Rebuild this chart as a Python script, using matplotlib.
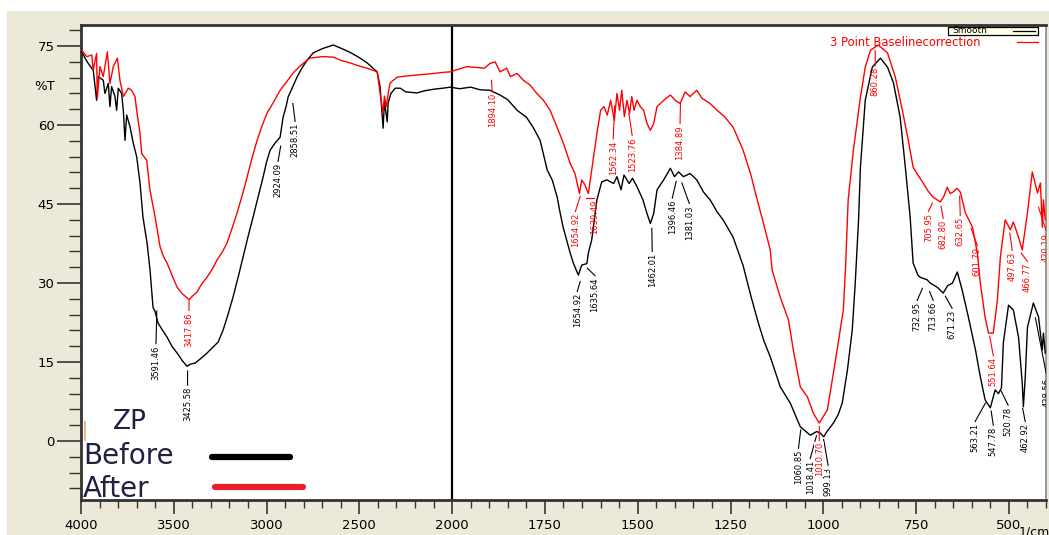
import numpy as np
import matplotlib
matplotlib.use("Agg")
import matplotlib.pyplot as plt
from matplotlib.lines import Line2D
from matplotlib.patches import Rectangle

# ZP FTIR spectra, %T vs wavenumber (1/cm)
before_wn = [4000, 3978, 3961, 3934, 3916, 3907, 3880, 3871, 3853, 3844, 3835, 3817, 3808, 3799,
             3781, 3772, 3763, 3754, 3736, 3718, 3700, 3682, 3666, 3644, 3628, 3612, 3600, 3585,
             3560, 3536, 3510, 3482, 3455, 3429, 3410, 3385, 3350, 3321, 3290, 3261, 3234, 3208,
             3181, 3154, 3127, 3100, 3073, 3046, 3019, 3000, 2981, 2954, 2927, 2911, 2895, 2884,
             2860, 2836, 2810, 2782, 2749, 2700, 2641, 2600, 2550, 2500, 2458, 2404, 2388, 2372,
             2365, 2350, 2345, 2330, 2307, 2280, 2250, 2189, 2150, 2100, 2050, 2011, 1980, 1950,
             1925, 1898, 1871, 1850, 1825, 1800, 1782, 1763, 1744, 1730, 1717, 1709, 1701, 1682,
             1673, 1660, 1651, 1637, 1633, 1624, 1610, 1597, 1583, 1565, 1556, 1545, 1537, 1523,
             1514, 1502, 1486, 1475, 1466, 1457, 1448, 1430, 1412, 1401, 1390, 1377, 1359, 1341,
             1323, 1305, 1286, 1270, 1243, 1216, 1195, 1175, 1160, 1143, 1116, 1089, 1062, 1035,
             1018, 1008, 999, 990, 973, 960, 949, 935, 922, 914, 905, 900, 887, 868, 846, 827,
             811, 793, 779, 766, 758, 745, 739, 720, 712, 693, 677, 665, 652, 639, 626, 609, 590,
             577, 564, 550, 537, 528, 520, 515, 501, 488, 474, 464, 461, 456, 450, 434, 420, 410,
             407, 402]
before_t = [74.2, 72.7, 71.7, 70.4, 64.7, 69.2, 68.5, 66.0, 67.9, 63.5, 67.3, 65.4, 62.8, 67.0,
            66.0, 62.8, 57.1, 61.9, 59.7, 56.5, 54.0, 49.0, 42.5, 37.6, 32.5, 25.4, 24.5, 22.4,
            21.0, 19.7, 18.0, 16.7, 15.3, 14.2, 14.6, 14.8, 15.8, 16.7, 17.8, 18.8, 21.1, 24.0,
            27.3, 31.0, 34.9, 38.8, 42.5, 46.3, 50.1, 53.0, 55.2, 56.6, 57.7, 61.5, 63.5, 65.3,
            67.2, 69.1, 70.8, 72.3, 73.7, 74.5, 75.2, 74.6, 73.8, 72.8, 71.8, 70.1, 67.2, 59.4,
            64.5, 60.6, 64.2, 66.0, 67.0, 67.0, 66.3, 66.1, 66.5, 66.8, 67.0, 67.2, 66.9, 67.2,
            66.7, 66.6, 65.7, 64.8, 62.8, 61.5, 59.6, 57.1, 51.5, 49.5, 46.3, 43.3, 40.6, 35.7,
            33.7, 31.5, 33.4, 33.7, 35.7, 38.2, 45.8, 49.2, 49.6, 48.9, 50.2, 47.7, 50.5, 48.9,
            49.9, 48.3, 45.8, 43.2, 41.3, 43.2, 47.7, 49.6, 51.8, 50.2, 51.1, 50.2, 50.8, 49.6,
            47.3, 45.8, 43.5, 42.0, 38.7, 33.3, 27.5, 22.4, 19.0, 16.0, 10.3, 7.2, 2.7, 1.1,
            1.8, 1.5, 0.8, 1.8, 3.4, 5.0, 7.2, 13.5, 21.1, 30.0, 42.0, 52.0, 64.7, 71.0, 72.7, 71.0,
            68.0, 61.5, 52.0, 42.5, 33.8, 31.5, 31.1, 30.6, 30.0, 29.2, 28.1, 29.5, 30.0, 32.1, 28.7, 23.5, 17.3,
            12.2, 7.8, 6.3, 9.7, 9.0, 10.1, 18.6, 25.8, 24.9, 19.7, 11.0, 6.5, 12.0, 21.6, 26.2, 23.5, 17.3,
            20.5, 16.7]

after_wn = [4000, 3996, 3969, 3942, 3934, 3916, 3912, 3898, 3880, 3858, 3844, 3826, 3804, 3790,
            3772, 3745, 3727, 3709, 3700, 3682, 3673, 3646, 3628, 3601, 3574, 3555, 3536, 3510,
            3482, 3455, 3429, 3418, 3400, 3375, 3350, 3321, 3290, 3267, 3240, 3213, 3185, 3159,
            3130, 3105, 3078, 3051, 3025, 2997, 2960, 2927, 2890, 2857, 2820, 2782, 2766, 2700,
            2641, 2600, 2550, 2500, 2450, 2404, 2388, 2372, 2365, 2355, 2340, 2334, 2296, 2250,
            2189, 2100, 2050, 2011, 1960, 1913, 1898, 1884, 1871, 1853, 1843, 1825, 1808, 1790,
            1772, 1754, 1736, 1718, 1700, 1682, 1669, 1657, 1651, 1642, 1633, 1624, 1610, 1600,
            1591, 1582, 1573, 1563, 1556, 1549, 1543, 1536, 1529, 1522, 1516, 1510, 1502, 1493,
            1484, 1475, 1466, 1457, 1448, 1430, 1412, 1399, 1386, 1372, 1359, 1341, 1327, 1305,
            1286, 1265, 1243, 1216, 1195, 1178, 1160, 1143, 1138, 1116, 1094, 1080, 1062, 1043,
            1027, 1011, 989, 973, 960, 946, 940, 933, 919, 900, 887, 873, 852, 827, 806, 787, 771,
            758, 745, 731, 718, 704, 685, 675, 666, 658, 650, 640, 631, 617, 598, 585, 577, 564,
            555, 542, 531, 523, 510, 496, 488, 474, 464, 450, 437, 423, 415, 410, 407, 402]
after_t = [74.2, 74.2, 73.0, 73.3, 70.4, 73.6, 65.1, 71.1, 69.2, 73.9, 67.9, 71.1, 72.7, 68.5,
           65.4, 67.0, 66.6, 65.4, 62.8, 58.4, 54.6, 53.3, 47.6, 42.6, 36.9, 35.0, 33.8, 31.5,
           29.2, 28.0, 27.2, 26.8, 27.5, 28.3, 29.8, 31.1, 32.8, 34.4, 35.8, 37.6, 40.5, 43.3,
           46.8, 50.1, 53.8, 57.1, 59.8, 62.3, 64.5, 66.6, 68.3, 69.9, 71.2, 72.3, 72.7, 73.0,
           72.9, 72.3, 71.8, 71.2, 70.7, 70.1, 66.0, 62.3, 65.5, 63.5, 67.0, 68.0, 69.1, 69.3,
           69.5, 69.8, 70.0, 70.1, 71.1, 70.8, 71.7, 72.0, 70.1, 70.8, 69.2, 69.8, 68.5, 67.6,
           66.0, 64.7, 62.8, 59.7, 56.5, 52.7, 50.8, 47.0, 49.6, 48.6, 47.0, 51.5, 58.4, 62.8,
           63.5, 61.9, 64.7, 60.9, 66.0, 62.8, 66.6, 61.6, 64.7, 62.2, 65.4, 62.8, 64.7, 63.5,
           62.8, 60.3, 59.0, 60.3, 63.5, 64.7, 65.7, 64.7, 64.1, 66.3, 65.4, 66.6, 65.1, 64.1,
           62.8, 61.5, 59.6, 55.2, 50.5, 45.8, 41.0, 36.3, 32.5, 27.3, 23.0, 17.0, 10.3, 8.4,
           5.3, 3.4, 5.9, 12.9, 18.5, 25.0, 33.0, 45.8, 55.2, 65.3, 71.0, 74.2, 75.2, 73.7, 69.1, 62.8, 57.1,
           52.0, 50.5, 49.0, 47.5, 46.3, 45.4, 46.5, 48.2, 47.0, 47.3, 48.0, 47.3, 43.3, 40.6, 35.7, 30.0, 23.5,
           20.5, 20.5, 26.8, 34.9, 42.0, 40.1, 41.6, 38.7, 36.3, 43.3, 51.1, 47.1, 49.0, 40.6, 45.8, 42.0]

# peak labels: text, peak position, curve %T, text x, text top
before_labels = [("3591.46", 3591.46, 25.3, 3596, 18.2), ("3425.58", 3425.58, 13.9, 3426, 10.3),
                 ("2924.09", 2924.09, 56.6, 2938, 52.8), ("2858.51", 2858.51, 64.7, 2846, 60.4),
                 ("1654.92", 1654.92, 30.9, 1663, 28.1), ("1635.64", 1635.64, 33.4, 1615, 31.1),
                 ("1462.01", 1462.01, 41.0, 1461, 35.7), ("1396.46", 1396.46, 49.9, 1407, 45.8),
                 ("1381.03", 1381.03, 49.6, 1361, 44.8), ("1060.85", 1060.85, 2.7, 1067, -1.7),
                 ("1018.41", 1018.41, 1.6, 1035, -3.6), ("999.13", 999.13, 0.9, 987, -4.9),
                 ("732.95", 732.95, 29.6, 747, 26.4), ("713.66", 713.66, 29.0, 704, 26.4),
                 ("671.23", 671.23, 28.1, 653, 24.9), ("563.21", 563.21, 7.8, 591, 3.4),
                 ("547.78", 547.78, 6.3, 542, 2.7), ("520.78", 520.78, 10.1, 502, 6.5),
                 ("462.92", 462.92, 6.8, 456, 3.4), ("428.56", 428.56, 24.0, 398, 12.0)]
after_labels = [("3417.86", 3417.86, 27.2, 3418, 24.5), ("1894.10", 1894.10, 69.1, 1892, 66.1),
                ("1654.92", 1654.92, 47.1, 1668, 43.3), ("1639.49", 1639.49, 46.7, 1617, 45.8),
                ("1562.34", 1562.34, 64.2, 1566, 57.1), ("1523.76", 1523.76, 62.8, 1515, 57.7),
                ("1384.89", 1384.89, 64.7, 1386, 60.0), ("860.28", 860.28, 74.8, 860, 71.0),
                ("705.95", 705.95, 45.8, 717, 43.3), ("682.80", 682.80, 45.2, 677, 42.0),
                ("632.65", 632.65, 47.1, 631, 42.5), ("601.79", 601.79, 41.0, 585, 36.8),
                ("551.64", 551.64, 20.5, 542, 15.9), ("497.63", 497.63, 40.1, 491, 35.9),
                ("466.77", 466.77, 36.3, 450, 33.8), ("420.19", 420.19, 45.0, 399, 39.5),
                ("1010.70", 1010.70, 3.4, 1011, -0.2)]

x_major = [4000, 3500, 3000, 2500, 2000, 1750, 1500, 1250, 1000, 750, 500]
x_minor = list(range(4000, 2000, -100)) + list(range(2000, 399, -50))
y_major = [0, 15, 30, 45, 60, 75]
y_minor = list(range(-9, 79, 3))


def fwd(x):
    x = np.asarray(x, dtype=float)
    return np.where(x > 2000, 2000 + (x - 2000) / 2.0, x)


def inv(u):
    u = np.asarray(u, dtype=float)
    return np.where(u > 2000, 2000 + (u - 2000) * 2.0, u)


W, H = 1049, 535
fig = plt.figure(figsize=(W / 100, H / 100), dpi=100, facecolor="white")
fig.patches.append(Rectangle((7 / W, 0), 1 - 7 / W, 1 - 11 / H, transform=fig.transFigure,
                             facecolor="#ECE9D8", edgecolor="none", zorder=-10))

ax = fig.add_axes([81 / W, 1 - 500 / H, (1046 - 81) / W, (500 - 25) / H])
ax.set_facecolor("white")
ax.set_xscale("function", functions=(fwd, inv))
ax.set_xlim(4000, 400)
ax.set_ylim(-11.2, 79)

ax.plot(before_wn, before_t, color="black", lw=1.0, zorder=3)
ax.plot(after_wn, after_t, color="#FF0000", lw=1.0, zorder=4)
ax.axvline(2000, color="black", lw=1.6, zorder=2)

for labels, col in ((before_labels, "black"), (after_labels, "#FF0000")):
    for txt, pk, yt, tx, ty in labels:
        ax.plot([pk, tx], [yt - 0.6, ty + 0.3], color=col, lw=0.8, zorder=5)
        bb = dict(facecolor="white", edgecolor="none", pad=0.3) if txt == "1010.70" else None
        ax.text(tx, ty, txt, rotation=90, ha="center", va="top", fontsize=6, color=col,
                zorder=6, clip_on=True, bbox=bb)

ax.set_xticks(x_major)
ax.set_xticks(x_minor, minor=True)
ax.set_xticklabels([str(v) for v in x_major])
ax.set_yticks(y_major)
ax.set_yticks(y_minor, minor=True)
ax.tick_params(axis="both", which="major", direction="out", length=10, width=1.2,
               labelsize=9.5, color="#333333")
ax.tick_params(axis="both", which="minor", direction="out", length=6, width=1.0, color="#333333")
ax.tick_params(axis="y", which="major", length=17, pad=2)
ax.tick_params(axis="y", which="minor", length=9)

for side in ("left", "bottom", "top"):
    ax.spines[side].set_linewidth(2)
    ax.spines[side].set_color("#333333")
ax.spines["right"].set_linewidth(1.2)
ax.spines["right"].set_color("#888888")

fig.text(45 / W, 1 - 86 / H, "%T", fontsize=9.5, ha="center", va="center")
fig.text(1034 / W, 1 - 532 / H, "1/cm", fontsize=9, ha="center", va="center")

# top-right legend
ax.add_patch(Rectangle((0.898, 0.979), 0.094, 0.017, transform=ax.transAxes,
                       facecolor="#FFFFE8", edgecolor="black", lw=0.9, zorder=7))
ax.text(0.903, 0.9875, "Smooth", transform=ax.transAxes, fontsize=6.5, ha="left", va="center",
        zorder=8)
ax.plot([0.966, 0.989], [0.9875, 0.9875], transform=ax.transAxes, color="black", lw=0.9, zorder=8)
ax.text(0.776, 0.964, "3 Point Baselinecorrection", transform=ax.transAxes, fontsize=8.3,
        color="#FF0000", ha="left", va="center", zorder=7)
ax.plot([0.970, 0.992], [0.964, 0.964], transform=ax.transAxes, color="#FF0000", lw=0.9, zorder=8)

# ZP legend in the lower left
leg_color = "#202040"
fig.text(113 / W, 1 - 422 / H, "ZP", fontsize=19, color=leg_color, ha="left", va="center")
fig.text(83 / W, 1 - 456 / H, "Before", fontsize=20, color=leg_color, ha="left", va="center")
fig.text(83 / W, 1 - 489 / H, "After", fontsize=20, color=leg_color, ha="left", va="center")
fig.lines.append(Line2D([212 / W, 290 / W], [1 - 457 / H, 1 - 457 / H], transform=fig.transFigure,
                        color="black", lw=4.5, solid_capstyle="round"))
fig.lines.append(Line2D([215 / W, 303 / W], [1 - 487 / H, 1 - 487 / H], transform=fig.transFigure,
                        color="#E8202A", lw=4.5, solid_capstyle="round"))
fig.lines.append(Line2D([85 / W, 85 / W], [1 - 422 / H, 1 - 440 / H], transform=fig.transFigure,
                        color="#F0A868", lw=1.2))

fig.savefig("out.png", dpi=100, facecolor=fig.get_facecolor())
